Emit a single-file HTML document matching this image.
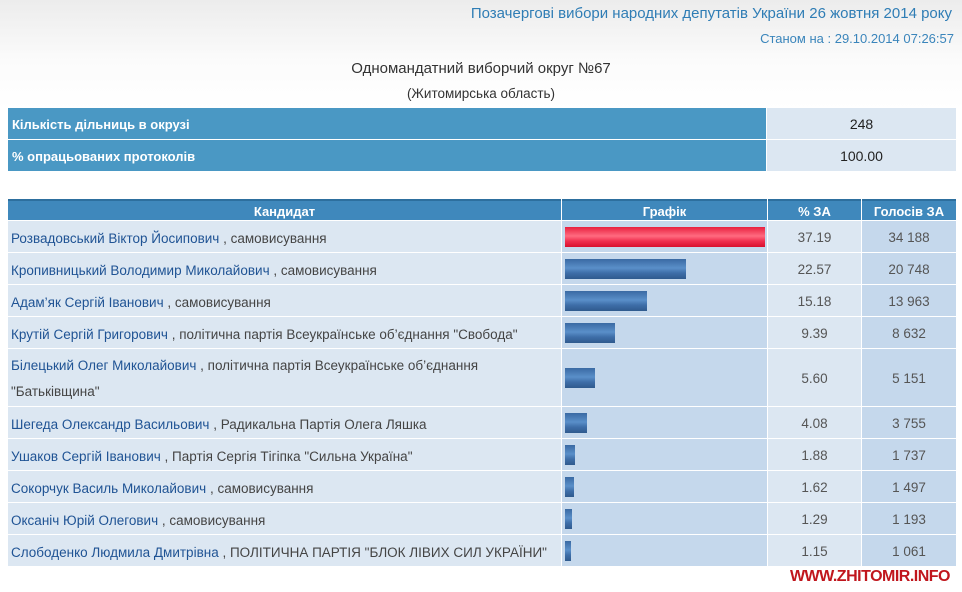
<!DOCTYPE html>
<html><head><meta charset="utf-8"><style>
*{margin:0;padding:0;box-sizing:border-box}
body{width:962px;height:592px;overflow:hidden;font-family:"Liberation Sans",sans-serif;background:linear-gradient(#ececec 0px,#fbfbfb 60px,#fff 110px);position:relative;color:#333}
.a{position:absolute;white-space:nowrap}
.t1{right:10px;top:5px;font-size:15px;color:#2f7db5}
.t2{right:8px;top:31px;font-size:13px;color:#3a85bb}
.t3{left:0;width:962px;text-align:center;top:60px;font-size:15px;color:#333}
.t4{left:0;width:962px;text-align:center;top:86px;font-size:13.5px;color:#333}
.lab{background:#4a98c4;color:#fff;font-weight:bold;font-size:13px;padding-left:4px;line-height:31px;padding-top:1px}
.val{background:#dce7f2;text-align:center;font-size:14px;line-height:31px;color:#222;padding-top:1px}
.hd{background:#3f88bc;color:#fff;font-weight:bold;font-size:13px;text-align:center;line-height:21px;top:199px;height:21px;border-top:2px solid #2d6f9e}
.c{font-size:13.5px;line-height:31px;padding-left:3px;padding-top:2px;background:#dce7f2;color:#444}
.c b{font-weight:normal;color:#1f5394}
.g{background:#c5d8ec}
.p{background:#dce7f2;text-align:center;font-size:13.5px;color:#555;padding-top:2px}
.v{background:#c5d8ec;text-align:center;font-size:13.5px;color:#555;padding-top:2px}
.bar{position:absolute;left:3px;height:20px;background:linear-gradient(#3a6aa3,#5a8fc9 45%,#3e6ea8 70%,#2f5a8e)}
.red{background:linear-gradient(#e8203e,#ff6b80 45%,#f03050 70%,#d8102e)}
</style></head><body>
<div class="a t1">Позачергові вибори народних депутатів України 26 жовтня 2014 року</div>
<div class="a t2">Станом на : 29.10.2014 07:26:57</div>
<div class="a t3">Одномандатний виборчий округ №67</div>
<div class="a t4">(Житомирська область)</div>
<div class="a lab" style="left:8px;top:108px;width:758px;height:31px">Кількість дільниць в окрузі</div>
<div class="a val" style="left:767px;top:108px;width:189px;height:31px">248</div>
<div class="a lab" style="left:8px;top:140px;width:758px;height:31px">% опрацьованих протоколів</div>
<div class="a val" style="left:767px;top:140px;width:189px;height:31px">100.00</div>
<div class="a hd" style="left:8px;width:553px">Кандидат</div>
<div class="a hd" style="left:562px;width:205px">Графік</div>
<div class="a hd" style="left:768px;width:93px">% ЗА</div>
<div class="a hd" style="left:862px;width:94px">Голосів ЗА</div>
<div id="rows"></div>
<div class="a" style="right:12px;top:568px;font-size:16px;font-weight:bold;color:#c0161d;letter-spacing:-0.5px">WWW.ZHITOMIR.INFO</div>
<script>
var d=[["Розвадовський Віктор Йосипович"," , самовисування","37.19","34 188",221,31],
["Кропивницький Володимир Миколайович"," , самовисування","22.57","20 748",253,31],
["Адам’як Сергій Іванович"," , самовисування","15.18","13 963",285,31],
["Крутій Сергій Григорович"," , політична партія Всеукраїнське об’єднання \"Свобода\"","9.39","8 632",317,31],
["Білецький Олег Миколайович"," , політична партія Всеукраїнське об’єднання<br>\"Батьківщина\"","5.60","5 151",349,57],
["Шегеда Олександр Васильович"," , Радикальна Партія Олега Ляшка","4.08","3 755",407,31],
["Ушаков Сергій Іванович"," , Партія Сергія Тігіпка \"Сильна Україна\"","1.88","1 737",439,31],
["Сокорчук Василь Миколайович"," , самовисування","1.62","1 497",471,31],
["Оксаніч Юрій Олегович"," , самовисування","1.29","1 193",503,31],
["Слободенко Людмила Дмитрівна"," , ПОЛІТИЧНА ПАРТІЯ \"БЛОК ЛІВИХ СИЛ УКРАЇНИ\"","1.15","1 061",535,31]];
var h="";
d.forEach(function(r,i){
var y=r[4],hh=r[5],lh=hh>31?"line-height:26px;padding-top:4px;":"";
var w=Math.max(5,Math.round(200*parseFloat(r[2])/37.19));
h+='<div class="a c" style="left:8px;top:'+y+'px;width:553px;height:'+hh+'px;'+lh+'"><b>'+r[0]+'</b>'+r[1]+'</div>';
h+='<div class="a g" style="left:562px;top:'+y+'px;width:205px;height:'+hh+'px"><div class="bar'+(i==0?' red':'')+'" style="top:'+Math.round((hh-20)/2)+'px;width:'+w+'px"></div></div>';
h+='<div class="a p" style="left:768px;top:'+y+'px;width:93px;height:'+hh+'px;line-height:'+(hh-2)+'px">'+r[2]+'</div>';
h+='<div class="a v" style="left:862px;top:'+y+'px;width:94px;height:'+hh+'px;line-height:'+(hh-2)+'px">'+r[3]+'</div>';
});
document.getElementById("rows").innerHTML=h;
</script>
</body></html>
